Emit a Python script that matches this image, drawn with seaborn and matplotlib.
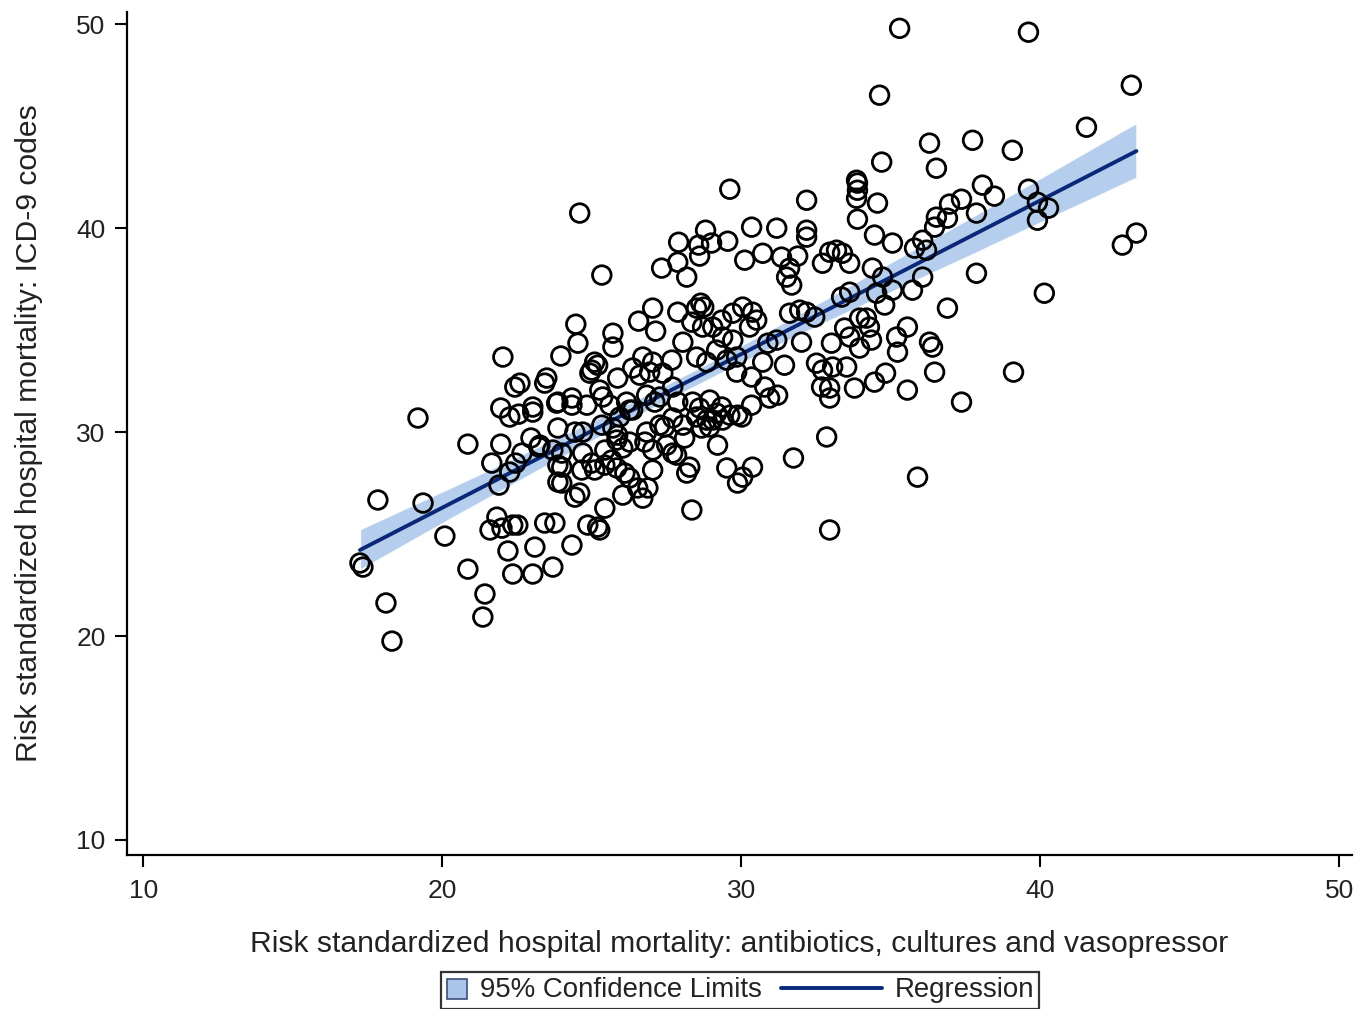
import numpy as np
import pandas as pd
import matplotlib
matplotlib.use("Agg")
import matplotlib.pyplot as plt
from matplotlib.patches import Patch, Rectangle
from matplotlib.lines import Line2D
import seaborn as sns

# values
abx_mortality = [
    17.25, 17.35, 17.85, 18.12, 18.32, 19.19, 19.36, 20.09, 20.86, 20.86,
    21.43, 21.36, 21.66, 21.90, 21.96, 21.96, 22.26, 22.56, 23.03, 23.03,
    23.83, 22.26, 22.46, 22.67, 22.97, 23.23, 23.70, 23.87, 23.87, 21.83,
    21.60, 22.00, 22.36, 22.53, 23.43, 23.77, 22.20, 23.10, 22.36, 23.03,
    23.70, 22.03, 22.43, 22.60, 23.43, 29.62, 24.60, 25.34, 27.91, 28.81,
    28.58, 29.01, 29.55, 28.61, 27.34, 27.88, 28.18, 27.04, 26.57, 27.14,
    27.88, 28.65, 28.75, 28.51, 28.35, 28.71, 29.05, 29.35, 29.72, 24.47,
    24.54, 25.71, 25.71, 23.97, 25.10, 25.20, 25.00, 26.71, 26.37, 27.04,
    27.68, 28.05, 28.51, 28.85, 29.18, 29.38, 29.72, 29.52, 29.85, 23.50,
    25.87, 26.61, 24.94, 26.94, 27.38, 23.87, 24.34, 24.34, 24.84, 25.27,
    25.37, 25.61, 26.17, 26.37, 26.84, 27.11, 27.28, 27.71, 27.88, 28.38,
    28.61, 28.95, 29.35, 29.18, 29.62, 29.88, 23.87, 24.44, 24.70, 25.34,
    25.71, 25.87, 25.94, 26.27, 26.84, 27.28, 27.44, 27.71, 28.05, 28.11,
    28.51, 28.85, 28.95, 29.05, 29.38, 28.68, 23.27, 24.00, 24.70, 25.44,
    25.84, 26.04, 26.27, 26.78, 27.04, 27.51, 27.71, 27.84, 29.21, 24.00,
    24.67, 25.00, 25.10, 25.44, 25.67, 25.84, 26.11, 26.27, 27.04, 28.18,
    28.28, 29.52, 29.88, 24.00, 24.44, 24.60, 26.04, 26.54, 26.88, 26.71,
    25.44, 28.35, 24.87, 25.20, 25.27, 24.34, 36.30, 34.70, 36.53, 32.19,
    33.86, 33.89, 33.89, 33.86, 34.56, 33.89, 30.35, 31.19, 32.19, 32.19,
    34.46, 35.06, 36.07, 35.80, 36.20, 36.53, 36.47, 30.12, 30.72, 31.35,
    31.62, 31.52, 31.69, 31.89, 32.72, 32.96, 33.19, 33.39, 33.63, 34.39,
    34.73, 34.53, 34.80, 35.06, 35.73, 36.07, 33.36, 33.63, 30.05, 30.38,
    30.52, 31.62, 31.96, 32.19, 32.46, 33.96, 34.19, 35.56, 30.28, 30.89,
    31.19, 32.02, 31.45, 33.02, 33.46, 33.63, 33.96, 34.29, 34.36, 35.20,
    35.23, 36.30, 36.40, 36.47, 32.52, 32.72, 33.06, 33.53, 30.35, 30.72,
    29.85, 32.69, 32.96, 32.96, 33.79, 34.46, 34.83, 35.56, 30.79, 30.95,
    31.22, 30.35, 30.02, 32.86, 31.75, 30.38, 30.05, 35.90, 32.96, 39.61,
    43.05, 41.55, 37.74, 39.07, 38.07, 38.47, 37.37, 36.97, 36.90, 37.87,
    39.61, 39.91, 40.28, 39.91, 42.75, 43.22, 37.87, 40.14, 36.90, 39.11,
    37.37, 34.63, 35.30,
]
icd9_mortality = [
    23.58, 23.38, 26.67, 21.62, 19.75, 30.69, 26.52, 24.90, 29.41, 23.28,
    22.06, 20.93, 28.48, 27.40, 29.41, 31.18, 30.74, 30.88, 31.23, 30.98,
    31.42, 28.04, 28.48, 28.97, 29.71, 29.27, 29.12, 28.38, 27.55, 25.83,
    25.20, 25.29, 25.44, 25.44, 25.54, 25.54, 24.17, 24.36, 23.04, 23.04,
    23.38, 33.68, 32.21, 32.40, 32.40, 41.91, 40.74, 37.70, 39.31, 39.90,
    39.17, 39.27, 39.36, 38.63, 38.04, 38.33, 37.60, 36.08, 35.44, 34.95,
    35.88, 36.32, 36.13, 36.08, 35.39, 35.15, 35.15, 35.49, 35.83, 35.29,
    34.36, 34.85, 34.17, 33.73, 33.43, 33.28, 33.04, 33.68, 33.14, 33.43,
    33.53, 34.41, 33.68, 33.43, 34.02, 34.66, 34.51, 33.53, 33.68, 32.65,
    32.65, 32.79, 32.89, 32.94, 32.89, 31.47, 31.67, 31.32, 31.32, 32.06,
    31.72, 31.32, 31.47, 31.08, 31.81, 31.47, 31.72, 32.21, 31.47, 31.47,
    31.18, 31.57, 31.23, 30.93, 30.83, 30.83, 30.20, 30.00, 30.00, 30.34,
    30.20, 29.85, 30.74, 31.08, 30.00, 30.34, 30.25, 30.69, 30.34, 29.71,
    30.74, 30.59, 30.25, 30.59, 30.59, 30.20, 29.36, 28.97, 28.97, 29.12,
    29.61, 29.22, 29.51, 29.51, 29.12, 29.36, 28.97, 28.87, 29.36, 28.28,
    28.14, 28.48, 28.14, 28.38, 28.63, 28.24, 27.99, 27.75, 28.14, 27.99,
    28.28, 28.24, 27.50, 27.50, 26.81, 27.01, 26.91, 27.26, 27.26, 26.76,
    26.27, 26.18, 25.44, 25.34, 25.20, 24.46, 44.17, 43.24, 42.94, 41.37,
    42.35, 42.21, 41.86, 41.47, 41.23, 40.44, 40.05, 40.00, 39.90, 39.56,
    39.66, 39.27, 39.41, 39.02, 38.92, 40.54, 40.05, 38.43, 38.77, 38.58,
    38.04, 37.60, 37.21, 38.63, 38.28, 38.82, 38.92, 38.77, 38.28, 38.04,
    37.60, 36.81, 36.23, 36.96, 36.96, 37.60, 36.62, 36.86, 36.13, 35.88,
    35.49, 35.83, 35.98, 35.88, 35.64, 35.59, 35.59, 35.15, 35.15, 34.36,
    34.51, 34.41, 33.28, 34.36, 35.10, 34.66, 34.12, 35.15, 34.51, 34.66,
    33.92, 34.41, 34.17, 32.94, 33.38, 33.04, 33.19, 33.19, 32.70, 33.43,
    32.94, 32.21, 32.16, 31.67, 32.16, 32.45, 32.89, 32.06, 32.21, 31.67,
    31.81, 31.32, 30.74, 29.76, 28.73, 28.28, 27.79, 27.79, 25.20, 49.61,
    47.01, 44.95, 44.31, 43.82, 42.11, 41.57, 41.42, 41.18, 40.49, 40.74,
    41.91, 41.27, 40.98, 40.39, 39.17, 39.76, 37.79, 36.81, 36.08, 32.94,
    31.47, 46.52, 49.80,
]
axis_ticks = [10, 20, 30, 40, 50]
legend_labels = ["95% Confidence Limits", "Regression"]

df = pd.DataFrame({"abx": abx_mortality, "icd9": icd9_mortality})

band_color = "#a9c6ea"
line_color = "#0a2878"


class SquareHandler:
    # small square box like the Stata legend key
    def legend_artist(self, legend, orig_handle, fontsize, handlebox):
        h = handlebox.height
        y0 = -handlebox.ydescent
        sq = Rectangle((0, y0 - 0.05 * h), h, h,
                       facecolor=band_color, edgecolor="#3a4f75", lw=1.2,
                       transform=handlebox.get_transform())
        handlebox.add_artist(sq)
        return sq


class LongLineHandler:
    # line key that reaches back into the column gap
    def legend_artist(self, legend, orig_handle, fontsize, handlebox):
        w, h = handlebox.width, handlebox.height
        y = -handlebox.ydescent + h / 2
        ln = Line2D([-2.9 * fontsize, w], [y, y], color=line_color, lw=2.8,
                    transform=handlebox.get_transform())
        handlebox.add_artist(ln)
        return ln


sns.set_style("ticks")
plt.rcParams["font.family"] = ["Liberation Sans", "DejaVu Sans"]

fig = plt.figure(figsize=(13.72, 10.09), dpi=100)
ax = fig.add_axes([0.0926, 0.1526, 0.8928, 0.8355])

sns.regplot(data=df, x="abx", y="icd9", ax=ax, scatter=False, ci=95,
            n_boot=2000, seed=3, truncate=True,
            line_kws={"color": line_color, "lw": 2.8, "zorder": 3})
# recolour the CI band
for coll in ax.collections:
    coll.set_facecolor(band_color)
    coll.set_alpha(0.85)
    coll.set_zorder(1)

sns.scatterplot(data=df, x="abx", y="icd9", ax=ax, s=180, marker="o",
                facecolors="none", edgecolor="black", linewidth=2.0,
                zorder=4)

ax.set_xlim(9.46, 50.43)
ax.set_ylim(9.26, 50.6)
ax.set_xticks(axis_ticks)
ax.set_yticks(axis_ticks)
ax.tick_params(axis="both", labelsize=19, length=8.5, width=1.5,
               color="black", labelcolor="#222222")
ax.tick_params(axis="x", pad=9)
ax.tick_params(axis="y", pad=7)
for side in ["left", "bottom"]:
    ax.spines[side].set_linewidth(1.6)
    ax.spines[side].set_color("black")
sns.despine(ax=ax)

ax.set_xlabel("Risk standardized hospital mortality: antibiotics, cultures and vasopressor",
              fontsize=21.7, labelpad=19, color="#222222")
ax.set_ylabel("Risk standardized hospital mortality: ICD-9 codes",
              fontsize=21.7, labelpad=24, color="#222222")

handles = [Patch(), Line2D([0], [0])]
leg = fig.legend(handles, legend_labels,
                 loc="center", bbox_to_anchor=(0.5395, 0.0185), ncol=2,
                 fontsize=19.9, frameon=True, fancybox=False,
                 handlelength=0.75, handleheight=0.75, columnspacing=3.6,
                 borderpad=0.2, borderaxespad=0, handletextpad=0.45,
                 handler_map={Patch: SquareHandler(),
                              Line2D: LongLineHandler()})
leg.get_frame().set_edgecolor("black")
leg.get_frame().set_linewidth(1.6)
for t in leg.get_texts():
    t.set_color("#222222")

fig.savefig("out.png", dpi=100)
